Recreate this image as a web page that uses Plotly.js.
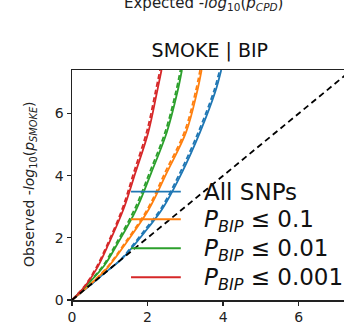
<!DOCTYPE html>
<html><head><meta charset="utf-8">
<script src="https://cdn.plot.ly/plotly-3.0.1.min.js"></script>
<style>html,body{margin:0;padding:0;background:#fff;}#chart{width:344px;height:330px;}</style>
</head><body><div id="chart"></div>
<script>
// Series labels and colours
var seriesNames = ["All SNPs", "<i>P</i><sub><i>BIP</i></sub> ≤ 0.1", "<i>P</i><sub><i>BIP</i></sub> ≤ 0.01", "<i>P</i><sub><i>BIP</i></sub> ≤ 0.001"];
var seriesColors = ["#1f77b4", "#ff7f0e", "#2ca02c", "#d62728"];

// Expected -log10(p) (x) and observed -log10(p) (y), solid curves
var allX   = [0, 0.5, 1.0, 1.3, 1.6, 2.0, 2.38, 2.91, 3.39, 3.79, 3.95];
var allY   = [0, 0.5, 1.0, 1.3, 1.7, 2.3, 2.91, 4.1, 5.4, 6.69, 7.4];
var p1X    = [0, 0.5, 0.95, 1.4, 2.03, 2.51, 3.02, 3.31, 3.43];
var p1Y    = [0, 0.52, 1.05, 1.78, 2.91, 4.1, 5.4, 6.69, 7.4];
var p01X   = [0, 0.45, 0.85, 1.2, 1.7, 2.1, 2.51, 2.79, 2.91];
var p01Y   = [0, 0.55, 1.1, 1.8, 2.91, 4.1, 5.4, 6.69, 7.4];
var p001X  = [0, 0.35, 0.65, 0.96, 1.36, 1.68, 2.02, 2.25, 2.37];
var p001Y  = [0, 0.45, 1.0, 1.78, 2.91, 4.1, 5.4, 6.69, 7.4];

// Dashed companion curves
var allXd  = [0, 0.5, 1.0, 1.3, 1.58, 1.97, 2.35, 2.87, 3.35, 3.75, 3.91];
var allYd  = [0, 0.5, 1.0, 1.31, 1.72, 2.32, 2.93, 4.12, 5.42, 6.7, 7.4];
var p1Xd   = [0, 0.5, 0.94, 1.38, 2.0, 2.47, 2.98, 3.27, 3.39];
var p1Yd   = [0, 0.53, 1.07, 1.8, 2.93, 4.12, 5.42, 6.7, 7.4];
var p01Xd  = [0, 0.44, 0.83, 1.17, 1.66, 2.06, 2.47, 2.75, 2.87];
var p01Yd  = [0, 0.56, 1.12, 1.82, 2.93, 4.12, 5.42, 6.7, 7.4];
var p001Xd = [0, 0.34, 0.63, 0.94, 1.33, 1.64, 1.98, 2.21, 2.33];
var p001Yd = [0, 0.46, 1.02, 1.8, 2.93, 4.12, 5.42, 6.7, 7.4];

// Null diagonal
var diagX = [0, 7.4];
var diagY = [0, 7.4];

var tickVals = [0, 2, 4, 6];

var solidX = [allX, p1X, p01X, p001X], solidY = [allY, p1Y, p01Y, p001Y];
var dashX = [allXd, p1Xd, p01Xd, p001Xd], dashY = [allYd, p1Yd, p01Yd, p001Yd];

var traces = [];
for (var i = 0; i < 4; i++) {
  traces.push({x: solidX[i], y: solidY[i], type: "scatter", mode: "lines",
    line: {color: seriesColors[i], width: 1.8, shape: "spline", smoothing: 1}, showlegend: false, hoverinfo: "skip"});
  traces.push({x: dashX[i], y: dashY[i], type: "scatter", mode: "lines",
    line: {color: seriesColors[i], width: 1.8, dash: "5px,3px", shape: "spline", smoothing: 1}, showlegend: false, hoverinfo: "skip"});
}
traces.push({x: diagX, y: diagY, type: "scatter", mode: "lines",
  line: {color: "#000", width: 1.8, dash: "6px,4px"}, showlegend: false, hoverinfo: "skip"});

// Manual legend (matplotlib-style long line samples)
var legY = [0.471, 0.351, 0.225, 0.099];
var shapes = [], annotations = [];
for (var k = 0; k < 4; k++) {
  shapes.push({type: "line", xref: "paper", yref: "paper", x0: 0.217, x1: 0.40, y0: legY[k], y1: legY[k],
    line: {color: seriesColors[k], width: 1.8}, layer: "above"});
  annotations.push({xref: "paper", yref: "paper", x: 0.477, y: legY[k], xanchor: "left", yanchor: "middle",
    yshift: k === 0 ? 0 : -2,
    text: seriesNames[k], showarrow: false, font: {family: "DejaVu Sans", size: 23, color: "#111"}});
}
annotations.push({xref: "paper", yref: "paper", x: -0.154, y: 0.505, textangle: -90,
  xanchor: "center", yanchor: "middle", showarrow: false,
  text: "Observed -<i>log</i><sub>10</sub>(<i>p</i><sub><i>SMOKE</i></sub>)",
  font: {family: "DejaVu Sans", size: 14, color: "#222"}});
annotations.push({xref: "paper", yref: "paper", x: 0.485, y: 1.287,
  xanchor: "center", yanchor: "middle", showarrow: false,
  text: "Expected -<i>log</i><sub>10</sub>(<i>p</i><sub><i>CPD</i></sub>)",
  font: {family: "DejaVu Sans", size: 15, color: "#222"}});

var layout = {
  width: 344, height: 330,
  margin: {l: 72, r: 0, t: 70, b: 30, pad: 0},
  paper_bgcolor: "#fff", plot_bgcolor: "#fff",
  title: {text: "SMOKE | BIP", font: {family: "DejaVu Sans", size: 19, color: "#111"},
    xref: "container", yref: "container", x: 0.61, xanchor: "center", y: 0.848, yanchor: "middle"},
  xaxis: {range: [0, 7.2], tickvals: tickVals, ticktext: tickVals.map(String), showgrid: false, zeroline: false,
    showline: true, linecolor: "#222", linewidth: 1.5, mirror: true, ticks: "outside", ticklen: 4, tickwidth: 1.3,
    tickcolor: "#222", tickfont: {family: "DejaVu Sans", size: 14, color: "#222"}},
  yaxis: {range: [0, 7.4], tickvals: tickVals, ticktext: tickVals.map(String), showgrid: false, zeroline: false,
    showline: true, linecolor: "#222", linewidth: 1.5, ticks: "outside", ticklen: 4, tickwidth: 1.3,
    tickcolor: "#222", tickfont: {family: "DejaVu Sans", size: 14, color: "#222"}},
  shapes: shapes,
  annotations: annotations,
  showlegend: false
};

Plotly.newPlot("chart", traces, layout, {displayModeBar: false, staticPlot: true});
</script>
</body></html>
